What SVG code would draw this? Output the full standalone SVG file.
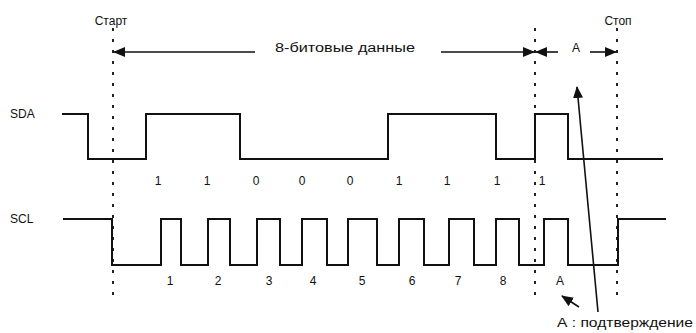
<svg xmlns="http://www.w3.org/2000/svg" width="696" height="333" viewBox="0 0 696 333">
<style>
text{font-family:"Liberation Sans",Arial,sans-serif;font-size:12px;fill:#111}
.sig{fill:none;stroke:#111;stroke-width:2;stroke-linejoin:miter}
.dash{stroke:#222;stroke-width:2;stroke-dasharray:3 8}
.arr{stroke:#111;stroke-width:1.6;fill:none;marker-end:url(#ah)}
.mid{text-anchor:middle}
</style>
<defs>
<marker id="ah" viewBox="0 0 12 10" refX="11" refY="5" markerWidth="12" markerHeight="10" markerUnits="userSpaceOnUse" orient="auto">
<path d="M0,0 L12,5 L0,10 Z" fill="#111"/>
</marker>
</defs>
<g id="markers">
<line class="dash" x1="113" y1="28" x2="113" y2="296"/>
<line class="dash" x1="535" y1="28" x2="535" y2="296"/>
<line class="dash" x1="617" y1="28" x2="617" y2="296"/>
<text x="111" y="25" class="mid" font-size="13">Старт</text>
<text x="618" y="25" class="mid" font-size="13">Стоп</text>
</g>
<g id="sda">
<text x="10" y="118" font-size="13">SDA</text>
<path class="sig" d="M62,114 H88 V159 H146 V114 H240 V159 H388 V114 H496 V159 H535 V114 H568 V159 H663"/>
<g class="mid">
<text x="158" y="185">1</text><text x="207" y="185">1</text><text x="256" y="185">0</text>
<text x="302" y="185">0</text><text x="350" y="185">0</text><text x="399" y="185">1</text>
<text x="447" y="185">1</text><text x="497" y="185">1</text><text x="542" y="185">1</text>
</g>
</g>
<g id="scl">
<text x="10" y="223" font-size="13">SCL</text>
<path class="sig" d="M63,219 H112 V265 H161 V219 H181 V265 H208 V219 H230 V265 H257 V219 H280 V265 H302 V219 H327 V265 H348 V219 H377 V265 H399 V219 H424 V265 H449 V219 H474 V265 H496 V219 H519 V265 H544 V219 H568 V265 H618 V219 H666"/>
<g class="mid">
<text x="170" y="285">1</text><text x="218" y="285">2</text><text x="269" y="285">3</text>
<text x="313" y="285">4</text><text x="362" y="285">5</text><text x="412" y="285">6</text>
<text x="458" y="285">7</text><text x="503" y="285">8</text><text x="560" y="285">A</text>
</g>
</g>
<g id="labels">
<text x="275" y="52" textLength="140" lengthAdjust="spacingAndGlyphs">8-битовые данные</text>
<text x="576" y="52" class="mid" font-size="13">A</text>
<text x="557" y="327" textLength="136" lengthAdjust="spacingAndGlyphs">А : подтверждение</text>
</g>
<g id="connectors">
<line class="arr" x1="255" y1="52" x2="114" y2="52"/>
<line class="arr" x1="441" y1="52" x2="534" y2="52"/>
<line class="arr" x1="558" y1="52" x2="536" y2="52"/>
<line class="arr" x1="590" y1="52" x2="616" y2="52"/>
<line class="arr" x1="598" y1="312" x2="577" y2="87"/>
<line class="arr" x1="579" y1="307" x2="562" y2="296"/>
</g>
</svg>
